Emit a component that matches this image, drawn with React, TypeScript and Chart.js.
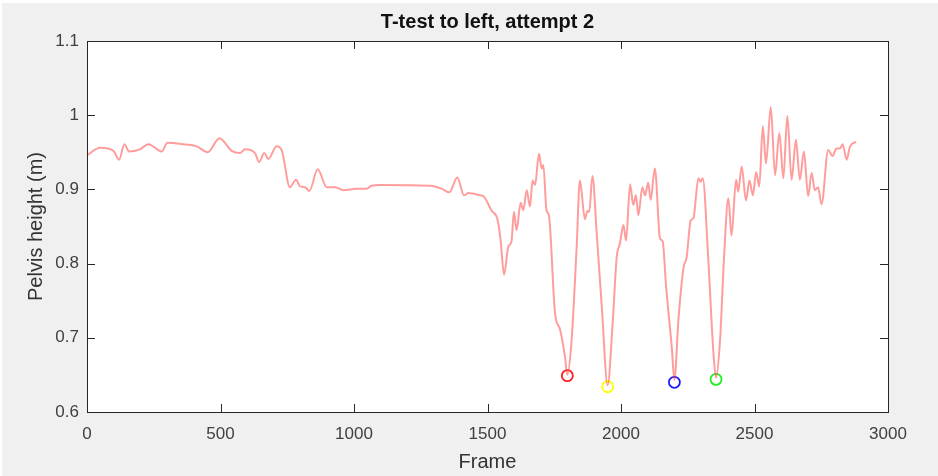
import React, { useEffect, useRef } from 'react';
import { Chart, registerables } from 'chart.js';

Chart.register(...registerables);

const frames = [
  0, 49, 99, 120, 140, 158, 198, 230, 280, 301, 361, 411, 452, 496, 542, 573, 592, 629, 645, 664,
  679, 710, 729, 760, 783, 798, 816, 833, 864, 898, 929, 960, 1010, 1047, 1066, 1097, 1285, 1328, 1357, 1387,
  1412, 1428, 1472, 1487, 1516, 1537, 1549, 1562, 1578, 1590, 1599, 1609, 1624, 1634, 1647, 1659, 1669, 1678, 1693, 1703,
  1709, 1721, 1730, 1753, 1772, 1790, 1799, 1815, 1834, 1846, 1865, 1874, 1881, 1893, 1909, 1928, 1950, 1968, 1984, 1996,
  2009, 2019, 2034, 2046, 2056, 2065, 2080, 2090, 2102, 2111, 2127, 2146, 2156, 2169, 2190, 2200, 2215, 2234, 2246, 2261,
  2271, 2290, 2298, 2306, 2327, 2346, 2356, 2371, 2386, 2402, 2414, 2431, 2439, 2452, 2468, 2481, 2494, 2506, 2518, 2531,
  2543, 2561, 2577, 2593, 2608, 2623, 2639, 2655, 2670, 2685, 2701, 2714, 2726, 2738, 2751, 2776, 2792, 2807, 2820, 2830,
  2845, 2858, 2880,
];

const heights = [
  0.946, 0.956, 0.952, 0.940, 0.961, 0.951, 0.954, 0.961, 0.951, 0.963, 0.961, 0.958, 0.950, 0.969, 0.952, 0.949, 0.954, 0.949, 0.937, 0.949,
  0.941, 0.958, 0.953, 0.903, 0.913, 0.904, 0.903, 0.898, 0.927, 0.903, 0.903, 0.899, 0.901, 0.901, 0.905, 0.906, 0.905, 0.901, 0.896, 0.916,
  0.892, 0.895, 0.892, 0.890, 0.871, 0.860, 0.832, 0.785, 0.823, 0.830, 0.870, 0.845, 0.882, 0.872, 0.899, 0.877, 0.912, 0.906, 0.948, 0.928,
  0.933, 0.872, 0.865, 0.733, 0.711, 0.675, 0.650, 0.697, 0.823, 0.912, 0.860, 0.871, 0.870, 0.918, 0.841, 0.742, 0.636, 0.715, 0.809, 0.827,
  0.852, 0.831, 0.907, 0.879, 0.892, 0.865, 0.903, 0.892, 0.909, 0.886, 0.928, 0.834, 0.830, 0.769, 0.688, 0.643, 0.724, 0.794, 0.809, 0.858,
  0.861, 0.915, 0.910, 0.915, 0.805, 0.680, 0.646, 0.697, 0.809, 0.888, 0.838, 0.913, 0.897, 0.931, 0.885, 0.912, 0.892, 0.923, 0.904, 0.985,
  0.935, 1.011, 0.919, 0.976, 0.915, 0.999, 0.913, 0.967, 0.913, 0.951, 0.891, 0.922, 0.899, 0.903, 0.880, 0.953, 0.945, 0.955, 0.955, 0.961,
  0.940, 0.958, 0.964,
];

const markerFrames = [1799, 1950, 2200, 2356];
const markerHeights = [0.649, 0.634, 0.640, 0.644];
const markerColors = ['#ff2020', '#ffff00', '#1a1aff', '#22ee22'];

const xMin = 0;
const xMax = 3000;
const xStep = 500;
const yMin = 0.6;
const yMax = 1.1;
const yStep = 0.1;

const titleText = 'T-test to left, attempt 2';
const xLabel = 'Frame';
const yLabel = 'Pelvis height (m)';

const FONT = '"Liberation Sans", Arial, Helvetica, sans-serif';

const matlabPlugin = {
  id: 'matlabStyle',
  beforeDraw(chart: any) {
    const { ctx, chartArea: a, width, height } = chart;
    ctx.save();
    ctx.fillStyle = '#ffffff';
    ctx.fillRect(0, 0, width, height);
    ctx.fillStyle = '#f0f0f0';
    ctx.fillRect(2, 3, width - 2, height - 3);
    ctx.fillStyle = '#ffffff';
    ctx.fillRect(a.left, a.top, a.right - a.left, a.bottom - a.top);
    ctx.restore();
  },
  afterDraw(chart: any) {
    const { ctx, chartArea: a } = chart;
    const xs = chart.scales.x;
    const ys = chart.scales.y;
    ctx.save();
    ctx.strokeStyle = '#262626';
    ctx.lineWidth = 1;
    ctx.strokeRect(Math.round(a.left) + 0.5, Math.round(a.top) + 0.5, Math.round(a.right - a.left), Math.round(a.bottom - a.top));
    const tl = 8;
    ctx.beginPath();
    xs.ticks.forEach((t: any) => {
      const px = Math.round(xs.getPixelForValue(t.value)) + 0.5;
      ctx.moveTo(px, a.bottom);
      ctx.lineTo(px, a.bottom - tl);
      ctx.moveTo(px, a.top);
      ctx.lineTo(px, a.top + tl);
    });
    ys.ticks.forEach((t: any) => {
      const py = Math.round(ys.getPixelForValue(t.value)) + 0.5;
      ctx.moveTo(a.left, py);
      ctx.lineTo(a.left + tl, py);
      ctx.moveTo(a.right, py);
      ctx.lineTo(a.right - tl, py);
    });
    ctx.stroke();

    const cx = (a.left + a.right) / 2;
    const cy = (a.top + a.bottom) / 2;
    ctx.fillStyle = '#111111';
    ctx.textAlign = 'center';
    ctx.textBaseline = 'alphabetic';
    ctx.font = `bold 20px ${FONT}`;
    ctx.fillText(titleText, cx, 28);

    ctx.fillStyle = '#333333';
    ctx.font = `20px ${FONT}`;
    ctx.fillText(xLabel, cx, 468);

    ctx.translate(42, cy);
    ctx.rotate(-Math.PI / 2);
    ctx.fillText(yLabel, 0, 0);
    ctx.restore();
  },
};

export default function App() {
  const canvasRef = useRef<HTMLCanvasElement | null>(null);

  useEffect(() => {
    if (!canvasRef.current) return;
    const lineData = frames.map((f, i) => ({ x: f, y: heights[i] }));
    const markerSets = markerFrames.map((f, i) => ({
      type: 'line' as const,
      data: [{ x: f, y: markerHeights[i] }],
      showLine: false,
      pointStyle: 'circle',
      pointRadius: 5.5,
      pointBorderWidth: 1.8,
      pointBorderColor: markerColors[i],
      pointBackgroundColor: 'rgba(0,0,0,0)',
      borderColor: markerColors[i],
      backgroundColor: 'rgba(0,0,0,0)',
    }));

    const chart = new Chart(canvasRef.current, {
      type: 'line',
      data: {
        datasets: [
          {
            data: lineData,
            borderColor: 'rgba(255,60,60,0.5)',
            borderWidth: 2,
            pointRadius: 0,
            cubicInterpolationMode: 'monotone',
            fill: false,
          } as any,
          ...markerSets,
        ],
      },
      options: {
        animation: false,
        responsive: true,
        maintainAspectRatio: false,
        layout: { padding: { left: 0, right: 50, top: 41, bottom: 0 } },
        plugins: {
          legend: { display: false },
          title: { display: false },
          tooltip: { enabled: false },
        },
        scales: {
          x: {
            type: 'linear',
            min: xMin,
            max: xMax,
            grid: { display: false, drawTicks: false },
            border: { display: false },
            ticks: {
              stepSize: xStep,
              padding: 12,
              color: '#404040',
              font: { family: FONT, size: 17 },
              maxRotation: 0,
              callback: (v: any) => String(v),
            },
            afterFit: (s: any) => {
              s.height = 64;
            },
          },
          y: {
            type: 'linear',
            min: yMin,
            max: yMax,
            grid: { display: false, drawTicks: false },
            border: { display: false },
            ticks: {
              stepSize: yStep,
              padding: 8,
              color: '#404040',
              font: { family: FONT, size: 17 },
              callback: (v: any) => String(Number(Number(v).toFixed(1))),
            },
            afterFit: (s: any) => {
              s.width = 87;
            },
          },
        },
      } as any,
      plugins: [matlabPlugin],
    });
    return () => chart.destroy();
  }, []);

  return (
    <div style={{ position: 'absolute', left: 0, top: 0, width: 938, height: 476 }}>
      <canvas ref={canvasRef} />
    </div>
  );
}
